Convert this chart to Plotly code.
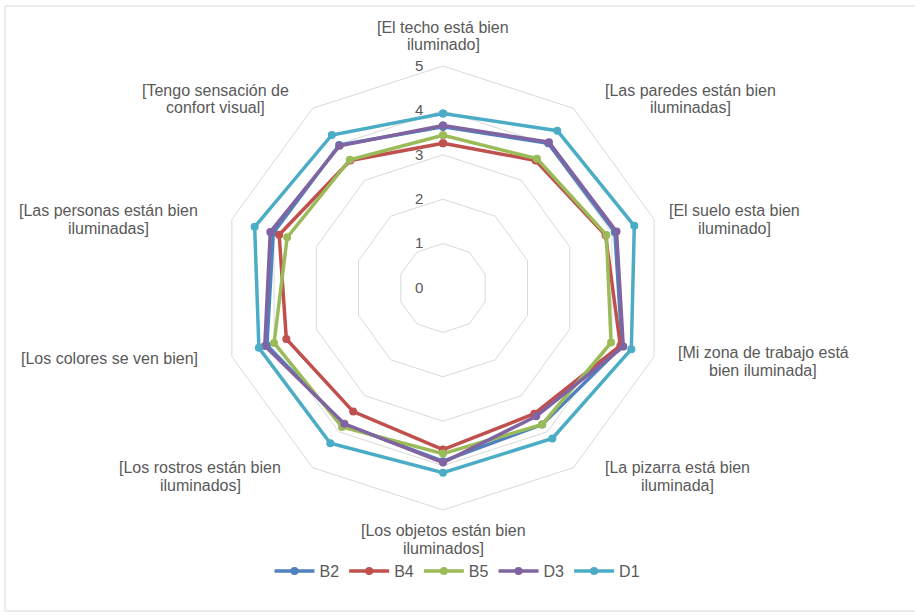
import plotly.graph_objects as go

W, H = 915, 615

categories = [
    "[El techo está bien<br>iluminado]",
    "[Las paredes están bien<br>iluminadas]",
    "[El suelo esta bien<br>iluminado]",
    "[Mi zona de trabajo está<br>bien iluminada]",
    "[La pizarra está bien<br>iluminada]",
    "[Los objetos están bien<br>iluminados]",
    "[Los rostros están bien<br>iluminados]",
    "[Los colores se ven bien]",
    "[Las personas están bien<br>iluminadas]",
    "[Tengo sensación de<br>confort visual]",
]

series_names = ["B2", "B4", "B5", "D3", "D1"]
b2 = [3.63, 4.03, 4.07, 4.24, 3.80, 3.90, 3.80, 4.17, 4.02, 3.98]
b4 = [3.26, 3.55, 3.85, 4.20, 3.50, 3.64, 3.44, 3.71, 3.88, 3.55]
b5 = [3.44, 3.60, 3.87, 3.98, 3.80, 3.73, 3.87, 4.00, 3.69, 3.57]
d3 = [3.66, 4.06, 4.11, 4.27, 3.57, 3.93, 3.78, 4.22, 4.09, 3.96]
d1 = [3.93, 4.38, 4.53, 4.46, 4.19, 4.16, 4.32, 4.36, 4.46, 4.26]
series_values = [b2, b4, b5, d3, d1]

radial_ticks = [0, 1, 2, 3, 4, 5]

colors = ["#4F81BD", "#C0504D", "#9BBB59", "#8064A2", "#4BACC6"]

# pixel centres of the category labels around the web
label_pos = [
    (443, 36), (690, 99), (734, 219), (763, 361), (677, 476),
    (443, 539), (200, 476), (109, 358), (108, 219), (215, 99),
]
LINE_GAP = 18  # px between the two lines of a label

FONT = "Liberation Sans, Arial, sans-serif"
GREY = "#595959"

# polar area: centre and radius in pixels
cx, cy, R = 443, 288, 222

fig = go.Figure()
for name, vals, col in zip(series_names, series_values, colors):
    fig.add_trace(go.Scatterpolar(
        r=vals + vals[:1],
        theta=categories + categories[:1],
        mode="lines+markers",
        name=name,
        line=dict(color=col, width=3.5),
        marker=dict(color=col, size=8),
    ))

fig.update_layout(
    width=W, height=H,
    margin=dict(l=0, r=0, t=0, b=0),
    paper_bgcolor="white",
    font=dict(family=FONT, size=15, color=GREY),
    polar=dict(
        domain=dict(x=[(cx - R) / W, (cx + R) / W],
                    y=[(H - cy - R) / H, (H - cy + R) / H]),
        gridshape="linear",
        bgcolor="white",
        radialaxis=dict(
            range=[0, 5],
            tickvals=radial_ticks,
            ticktext=[str(t) for t in radial_ticks],
            angle=90,
            tickangle=90,
            showline=False,
            ticks="outside",
            ticklen=14,
            tickcolor="rgba(0,0,0,0)",
            gridcolor="#D9D9D9",
            gridwidth=1,
            tickfont=dict(size=15, color=GREY),
            side="counterclockwise",
        ),
        angularaxis=dict(
            type="category",
            categoryorder="array",
            categoryarray=categories,
            rotation=90,
            direction="clockwise",
            showticklabels=False,
            showgrid=False,
            showline=True,
            linecolor="#D9D9D9",
            linewidth=1,
            ticks="",
        ),
    ),
    legend=dict(
        orientation="h",
        x=0.5, xanchor="center",
        y=(H - 571) / H, yanchor="middle",
        font=dict(size=16, color=GREY),
        itemwidth=40,
    ),
    shapes=[dict(
        type="rect", xref="paper", yref="paper",
        x0=5 / W, x1=918 / W, y0=1 - 611 / H, y1=1 - 6 / H,
        line=dict(color="#D9D9D9", width=1),
        fillcolor="rgba(0,0,0,0)",
        layer="below",
    )],
)

# category labels, one annotation per text line for tight spacing
for text, (px, py) in zip(categories, label_pos):
    lines = text.split("<br>")
    n = len(lines)
    for i, ln in enumerate(lines):
        ly = py + (i - (n - 1) / 2) * LINE_GAP
        fig.add_annotation(
            x=px / W, y=1 - ly / H, xref="paper", yref="paper",
            text=ln, showarrow=False, borderpad=0,
            xanchor="center", yanchor="middle",
            font=dict(size=16, color=GREY, family=FONT),
        )

fig.write_html("out.html")
